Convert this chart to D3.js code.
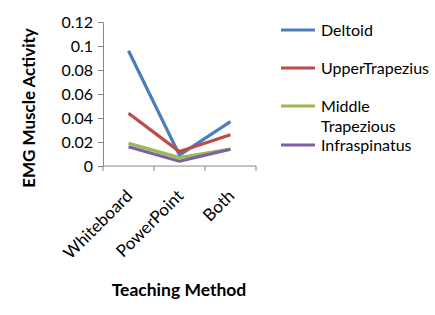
<!DOCTYPE html>
<html>
<head>
<meta charset="utf-8">
<script src="https://d3js.org/d3.v7.min.js"></script>
<style>
  body { margin: 0; background: #fff; }
  text { font-family: Lato, "Open Sans", sans-serif; fill: #000; }
</style>
</head>
<body>
<div id="chart"></div>
<script>
// Data
const methods = ["Whiteboard", "PowerPoint", "Both"];
const deltoid = [0.096, 0.009, 0.037];
const upperTrapezius = [0.044, 0.012, 0.026];
const middleTrapezious = [0.019, 0.007, 0.014];
const infraspinatus = [0.016, 0.004, 0.014];
const yTicks = [0, 0.02, 0.04, 0.06, 0.08, 0.1, 0.12];

const series = [
  { name: "Deltoid", values: deltoid, color: "#4a7ebb" },
  { name: "UpperTrapezius", values: upperTrapezius, color: "#be4b48" },
  { name: "Middle Trapezious", values: middleTrapezious, color: "#98b954" },
  { name: "Infraspinatus", values: infraspinatus, color: "#7d60a0" }
];

const width = 435, height = 315;
const margin = { left: 103, right: 179, top: 22, bottom: 149 };

const svg = d3.select("#chart").append("svg")
  .attr("width", width)
  .attr("height", height);

const x = d3.scaleBand().domain(methods).range([margin.left, width - margin.right]);
const y = d3.scaleLinear().domain([0, 0.12]).range([height - margin.bottom, margin.top]);

// y axis
const yAxis = svg.append("g")
  .attr("transform", `translate(${margin.left},0)`)
  .call(d3.axisLeft(y).tickValues(yTicks).tickSize(5).tickPadding(5).tickFormat(d => d3.format("")(+d.toFixed(2))));
yAxis.select(".domain").attr("stroke", "#868686");
yAxis.selectAll(".tick line").attr("stroke", "#868686");
yAxis.selectAll(".tick text").style("font-size", "16px");

// x axis
const x0 = height - margin.bottom;
const xAxis = svg.append("g")
  .attr("transform", `translate(0,${x0})`);
xAxis.append("line")
  .attr("x1", margin.left).attr("x2", width - margin.right)
  .attr("stroke", "#868686");
const edges = methods.map(m => x(m)).concat([x(methods[methods.length - 1]) + x.bandwidth()]);
xAxis.selectAll(".xt").data(edges).join("line")
  .attr("x1", d => d).attr("x2", d => d)
  .attr("y1", 0).attr("y2", 5)
  .attr("stroke", "#868686");
xAxis.selectAll(".xl").data(methods).join("text")
  .attr("transform", d => `translate(${x(d) + x.bandwidth() / 2 + 5},${31}) rotate(-45)`)
  .attr("text-anchor", "end")
  .style("font-size", "17px")
  .text(d => d);

// lines
const line = d3.line()
  .x((d, i) => x(methods[i]) + x.bandwidth() / 2)
  .y(d => y(d));

svg.selectAll(".series").data(series).join("path")
  .attr("d", d => line(d.values))
  .attr("fill", "none")
  .attr("stroke", d => d.color)
  .attr("stroke-width", 3.2)
  .attr("stroke-linejoin", "round");

// axis titles
svg.append("text")
  .attr("transform", "translate(35,108) rotate(-90)")
  .attr("text-anchor", "middle")
  .style("font-size", "17px")
  .style("font-weight", "bold")
  .text("EMG Muscle Activity");

svg.append("text")
  .attr("x", 179).attr("y", 296)
  .attr("text-anchor", "middle")
  .style("font-size", "17.5px")
  .style("font-weight", "bold")
  .text("Teaching Method");

// legend
const legendY = [30, 68, 106, 145];
const legend = svg.append("g");
series.forEach((s, i) => {
  const g = legend.append("g").attr("transform", `translate(281,${legendY[i]})`);
  g.append("line").attr("x1", 0).attr("x2", 34)
    .attr("stroke", s.color).attr("stroke-width", 3.2);
  const parts = s.name === "Middle Trapezious" ? ["Middle", "Trapezious"] : [s.name];
  parts.forEach((p, j) => {
    g.append("text")
      .attr("x", 40).attr("y", 5.5 + j * 20)
      .style("font-size", "16px")
      .text(p);
  });
});
</script>
</body>
</html>
